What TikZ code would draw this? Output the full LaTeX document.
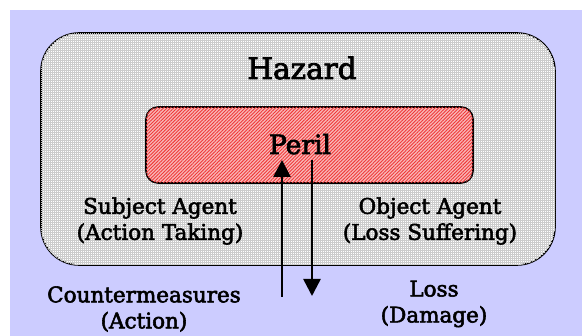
\documentclass[tikz,border=0pt]{standalone}
\usepackage{fontspec}
\setmainfont{DejaVu Serif}[FakeBold=2.6]
\usetikzlibrary{patterns.meta,arrows.meta}
\definecolor{lav}{HTML}{CCCCFF}
\definecolor{pinkbg}{HTML}{F8B8B8}
\definecolor{stripe}{HTML}{F03838}
\tikzset{
  hazardbox/.style={draw=black,line width=1.6pt,rounded corners=38pt,fill=white,
    postaction={pattern={Hatch[angle=0,distance=2pt,line width=0.3pt]},pattern color=gray!40}},
  perilbox/.style={draw=black,line width=1.6pt,rounded corners=12pt,fill=pinkbg,
    postaction={pattern={Lines[angle=45,distance=2.4pt,line width=0.9pt]},pattern color=stripe}},
  lbl/.style={align=center,inner sep=0pt,font=\fontsize{21.5}{26}\selectfont},
  flow/.style={line width=2.6pt,-{Triangle[width=17pt,length=17pt]}}
}
\begin{document}
\begin{tikzpicture}[x=1pt,y=-1pt]
\useasboundingbox (0,0) rectangle (582,336);
\fill[lav] (10,10) rectangle (582,336);
\path[hazardbox] (41,33) rectangle (555,265);
\path[perilbox] (146,107) rectangle (473,183);
\node[anchor=base,inner sep=0pt,font=\fontsize{29.5}{34}\selectfont] (hazard) at (302,79) {Hazard};
\node[anchor=base,inner sep=0pt,font=\fontsize{26.5}{30}\selectfont] (peril) at (300,154) {Peril};
\node[lbl] (subj) at (160,221) {Subject Agent\\(Action Taking)};
\node[lbl] (obj) at (430,221) {Object Agent\\(Loss Suffering)};
\node[lbl] (cm) at (144,309) {Countermeasures\\(Action)};
\node[lbl] (loss) at (434,304) {Loss\\(Damage)};
\coordinate (ubot) at (282,297);
\coordinate (utop) at (282,160);
\coordinate (dtop) at (312,160);
\coordinate (dbot) at (312,296);
\draw[flow] (ubot) -- (utop);
\draw[flow] (dtop) -- (dbot);
\end{tikzpicture}
\end{document}
